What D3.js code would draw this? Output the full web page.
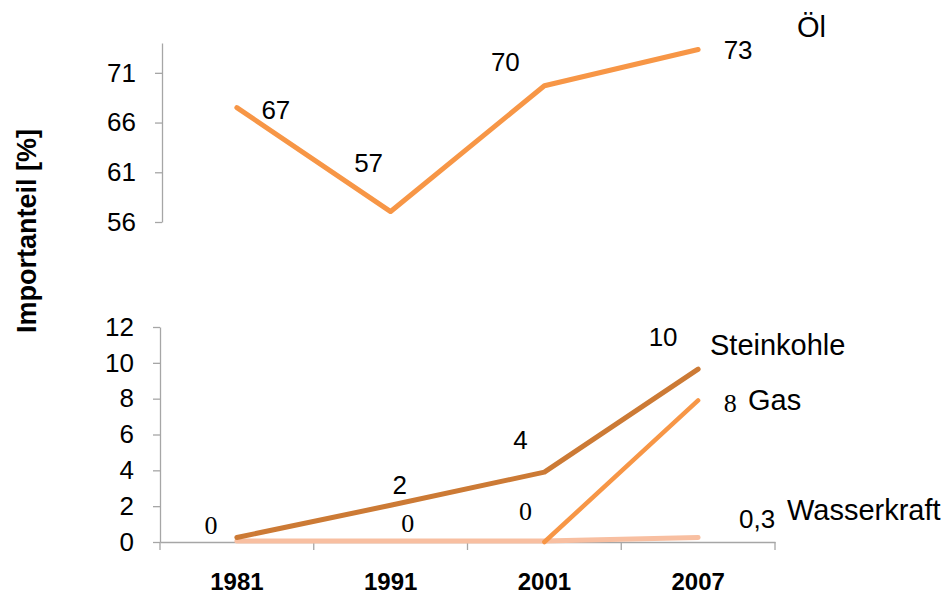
<!DOCTYPE html>
<html><head><meta charset="utf-8">
<script src="https://cdn.jsdelivr.net/npm/d3@7"></script>
<style>
body{margin:0;background:#fff;}
</style></head>
<body><svg id="c" width="947" height="596"></svg>
<script>
const years = ["1981","1991","2001","2007"];
const oil = [67.5, 57.05, 69.7, 73.35];
const oilLabels = ["67","57","70","73"];
const steinkohle = [0.25, 2.05, 3.9, 9.65];
const steinkohleLabels = ["0","2","4","10"];
const gas = [null, null, 0, 7.9];
const gasLabels = ["","","0","8"];
const wasserkraft = [0.05, 0.05, 0.05, 0.25];
const wasserkraftLabels = ["","0","","0,3"];
const topTicks = [56, 61, 66, 71];
const bottomTicks = [0, 2, 4, 6, 8, 10, 12];
const seriesNames = ["Öl","Steinkohle","Gas","Wasserkraft"];
const yTitle = "Importanteil [%]";

const SANS = "'Liberation Sans', Arial, sans-serif";
const SERIF = "'Liberation Serif', 'Times New Roman', serif";
const svg = d3.select("#c");
const axisColor = "#a6a6a6";
const x = d3.scaleBand().domain(years).range([160, 775]);
const cx = d => x(d) + x.bandwidth()/2;
const yTop = d3.scaleLinear().domain([56, 74]).range([222, 43]);
const yBot = d3.scaleLinear().domain([0, 12]).range([542, 327]);

function styleAxis(g){
  g.selectAll("path,line").attr("stroke", axisColor).attr("stroke-width", 1.3);
  g.selectAll("text").style("font-size", "26px").style("fill", "#000").style("font-family", SANS);
}
const gTop = svg.append("g").attr("transform","translate(162,0)")
  .call(d3.axisLeft(yTop).tickValues(topTicks).tickSize(7).tickSizeOuter(0).tickPadding(19));
styleAxis(gTop);
const gBotY = svg.append("g").attr("transform","translate(160,0)")
  .call(d3.axisLeft(yBot).tickValues(bottomTicks).tickSize(7).tickSizeOuter(0).tickPadding(19));
styleAxis(gBotY);
const gX = svg.append("g").attr("transform","translate(0,542)")
  .call(d3.axisBottom(x).tickSize(0).tickPadding(31));
styleAxis(gX);
gX.selectAll("text").style("font-weight","bold").style("font-size","24px");
const bounds = years.map(d => x(d)).concat([x.range()[1]]);
gX.selectAll("line.bt").data(bounds).enter().append("line")
  .attr("x1", d=>d).attr("x2", d=>d).attr("y1",0).attr("y2",8)
  .attr("stroke", axisColor).attr("stroke-width",1.3);

svg.append("text").attr("transform","translate(27,231) rotate(-90)").attr("dy","0.35em")
  .attr("text-anchor","middle").style("font-family",SANS).style("font-weight","bold")
  .style("font-size","27px").text(yTitle);

const series = [
  {vals: oil, labels: oilLabels, y: yTop, color:"#f79646", w:5,
   off: [[39,2],[-22,-49],[-39,-24],[40,0.5]], serif:[false,false,false,false],
   name: seriesNames[0], namePos:[797,27]},
  {vals: steinkohle, labels: steinkohleLabels, y: yBot, color:"#cc7a35", w:5,
   off: [[-26,-12.5],[9,-20],[-24,-32],[-35,-32]], serif:[true,false,false,false],
   name: seriesNames[1], namePos:[710,345]},
  {vals: gas, labels: gasLabels, y: yBot, color:"#f79646", w:4.5,
   off: [[0,0],[0,0],[-19,-31],[32,2.5]], serif:[false,false,true,true],
   name: seriesNames[2], namePos:[748,400]},
  {vals: wasserkraft, labels: wasserkraftLabels, y: yBot, color:"#f8bfa1", w:5,
   off: [[0,0],[17,-18],[0,0],[59,-18.5]], serif:[false,true,false,false],
   name: seriesNames[3], namePos:[787,510]}
];
const drawOrder = [0,3,1,2];
drawOrder.forEach(i => {
  const s = series[i];
  const line = d3.line().defined(d => d != null).x((d,j)=>cx(years[j])).y(d=>s.y(d));
  svg.append("path").datum(s.vals).attr("d", line).attr("fill","none")
    .attr("stroke", s.color).attr("stroke-width", s.w).attr("stroke-linecap","round").attr("stroke-linejoin","round");
});
series.forEach(s => {
  s.vals.forEach((v,j) => {
    if (v == null || !s.labels[j]) return;
    const px = cx(years[j]) + s.off[j][0];
    const py = s.y(v) + s.off[j][1];
    svg.append("text").attr("x", px).attr("y", py).attr("dy","0.35em")
      .attr("text-anchor","middle")
      .style("font-size", s.serif[j] ? "26px" : "26px")
      .style("font-family", s.serif[j] ? SERIF : SANS)
      .text(s.labels[j]);
  });
  svg.append("text").attr("x", s.namePos[0]).attr("y", s.namePos[1]).attr("dy","0.35em")
    .style("font-family", SANS).style("font-size", "29px").text(s.name);
});
</script></body></html>
